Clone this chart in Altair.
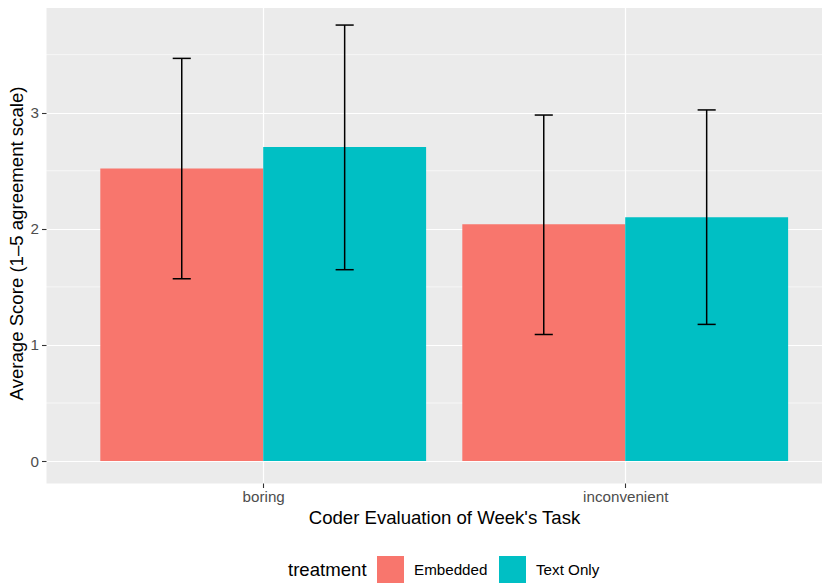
import altair as alt
import pandas as pd

# ---- data ----
categories = ["boring", "inconvenient"]
treatments = ["Embedded", "Text Only"]
mean_embedded = [2.52, 2.04]
mean_text_only = [2.705, 2.10]
low_embedded = [1.57, 1.09]
high_embedded = [3.468, 2.98]
low_text_only = [1.648, 1.177]
high_text_only = [3.755, 3.024]
y_ticks = [0, 1, 2, 3]
y_minor = [0.5, 1.5, 2.5, 3.5]
colors = ["#F8766D", "#00BFC4"]

rows = []
series = zip(treatments,
             [mean_embedded, mean_text_only],
             [low_embedded, low_text_only],
             [high_embedded, high_text_only])
for t_i, (t, means, lows, highs) in enumerate(series):
    for c_i, c in enumerate(categories):
        rows.append(dict(category=c, cat_pos=c_i + 1, treatment=t, t_idx=t_i,
                         mean=means[c_i], low=lows[c_i], high=highs[c_i]))
df = pd.DataFrame(rows)
minor_df = pd.DataFrame({"minor": y_minor})

FONT = "Liberation Sans"
TITLE_SIZE = 18.6
LABEL_SIZE = 15.2
DODGE = 0.9
W = DODGE / len(treatments)
CAP = 0.025

label_list = "[" + ",".join("'" + c + "'" for c in categories) + "]"

x_scale = alt.Scale(domain=[0.4, 2.5436], nice=False, zero=False)
y_scale = alt.Scale(domain=[-0.189, 3.945], nice=False, zero=False)

x_axis = alt.Axis(values=[1, 2], labelExpr=label_list + "[datum.value - 1]",
                  grid=True, gridColor="white", gridWidth=1.2, domain=False,
                  tickColor="#333333", tickSize=4.5, tickWidth=1.1,
                  labelColor="#4D4D4D", labelFontSize=LABEL_SIZE, labelFont=FONT,
                  labelPadding=2, titleFont=FONT, titleFontSize=TITLE_SIZE,
                  titleColor="black", titleFontWeight="normal", titlePadding=4,
                  titleX=398, titleAlign="center")
y_axis = alt.Axis(values=y_ticks, grid=True, gridColor="white", gridWidth=1.2,
                  domain=False, tickColor="#333333", tickSize=4.5, tickWidth=1.1,
                  labelColor="#4D4D4D", labelFontSize=LABEL_SIZE, labelFont=FONT,
                  labelPadding=3, titleFont=FONT, titleFontSize=TITLE_SIZE,
                  titleColor="black", titleFontWeight="normal", titlePadding=4)

XT = "Coder Evaluation of Week's Task"
YT = "Average Score (1–5 agreement scale)"

base = alt.Chart(df).transform_calculate(
    bar_start=f"datum.cat_pos - {DODGE / 2} + datum.t_idx * {W}",
    bar_end=f"datum.cat_pos - {DODGE / 2} + (datum.t_idx + 1) * {W}",
    center=f"datum.cat_pos - {DODGE / 2} + (datum.t_idx + 0.5) * {W}",
).transform_calculate(
    cap_l=f"datum.center - {CAP}",
    cap_r=f"datum.center + {CAP}",
)

minor = alt.Chart(minor_df).mark_rule(color="white", strokeWidth=0.6).encode(
    y=alt.Y("minor:Q", scale=y_scale, axis=y_axis, title=YT)
)

bars = base.mark_bar(opacity=1).encode(
    x=alt.X("bar_start:Q", scale=x_scale, axis=x_axis, title=XT),
    x2="bar_end:Q",
    y=alt.Y("mean:Q", scale=y_scale, axis=y_axis, title=YT),
    y2=alt.datum(0),
    color=alt.Color("treatment:N",
                    scale=alt.Scale(domain=treatments, range=colors),
                    legend=alt.Legend(orient="none", legendX=242, legendY=553,
                                      direction="horizontal", titleOrient="left",
                                      title="treatment", titleFont=FONT,
                                      titleFontSize=TITLE_SIZE, titleFontWeight="normal",
                                      titleColor="black", titleBaseline="middle",
                                      titleAnchor="middle",
                                      labelFont=FONT, labelFontSize=LABEL_SIZE,
                                      labelColor="black", symbolType="square",
                                      symbolSize=729, symbolStrokeWidth=0,
                                      symbolOpacity=1, labelOffset=10,
                                      columnPadding=11, titlePadding=10,
                                      padding=0)),
)

err = base.mark_rule(color="black", strokeWidth=1.5).encode(
    x=alt.X("center:Q", scale=x_scale, axis=x_axis, title=XT),
    y=alt.Y("low:Q", scale=y_scale, axis=y_axis, title=YT),
    y2="high:Q",
)
cap_hi = base.mark_rule(color="black", strokeWidth=1.5).encode(
    x=alt.X("cap_l:Q", scale=x_scale, axis=x_axis, title=XT),
    x2="cap_r:Q",
    y=alt.Y("high:Q", scale=y_scale, axis=y_axis, title=YT),
)
cap_lo = base.mark_rule(color="black", strokeWidth=1.5).encode(
    x=alt.X("cap_l:Q", scale=x_scale, axis=x_axis, title=XT),
    x2="cap_r:Q",
    y=alt.Y("low:Q", scale=y_scale, axis=y_axis, title=YT),
)

chart = alt.layer(minor, bars, err, cap_hi, cap_lo).properties(
    width=776, height=480,
    padding={"left": 38, "top": -5, "right": 0, "bottom": 102},
    autosize=alt.AutoSizeParams(type="none"),
    background="white",
).configure_view(fill="#EBEBEB", stroke="transparent")

chart.save("out.html", embed_options={"renderer": "svg", "actions": False})
